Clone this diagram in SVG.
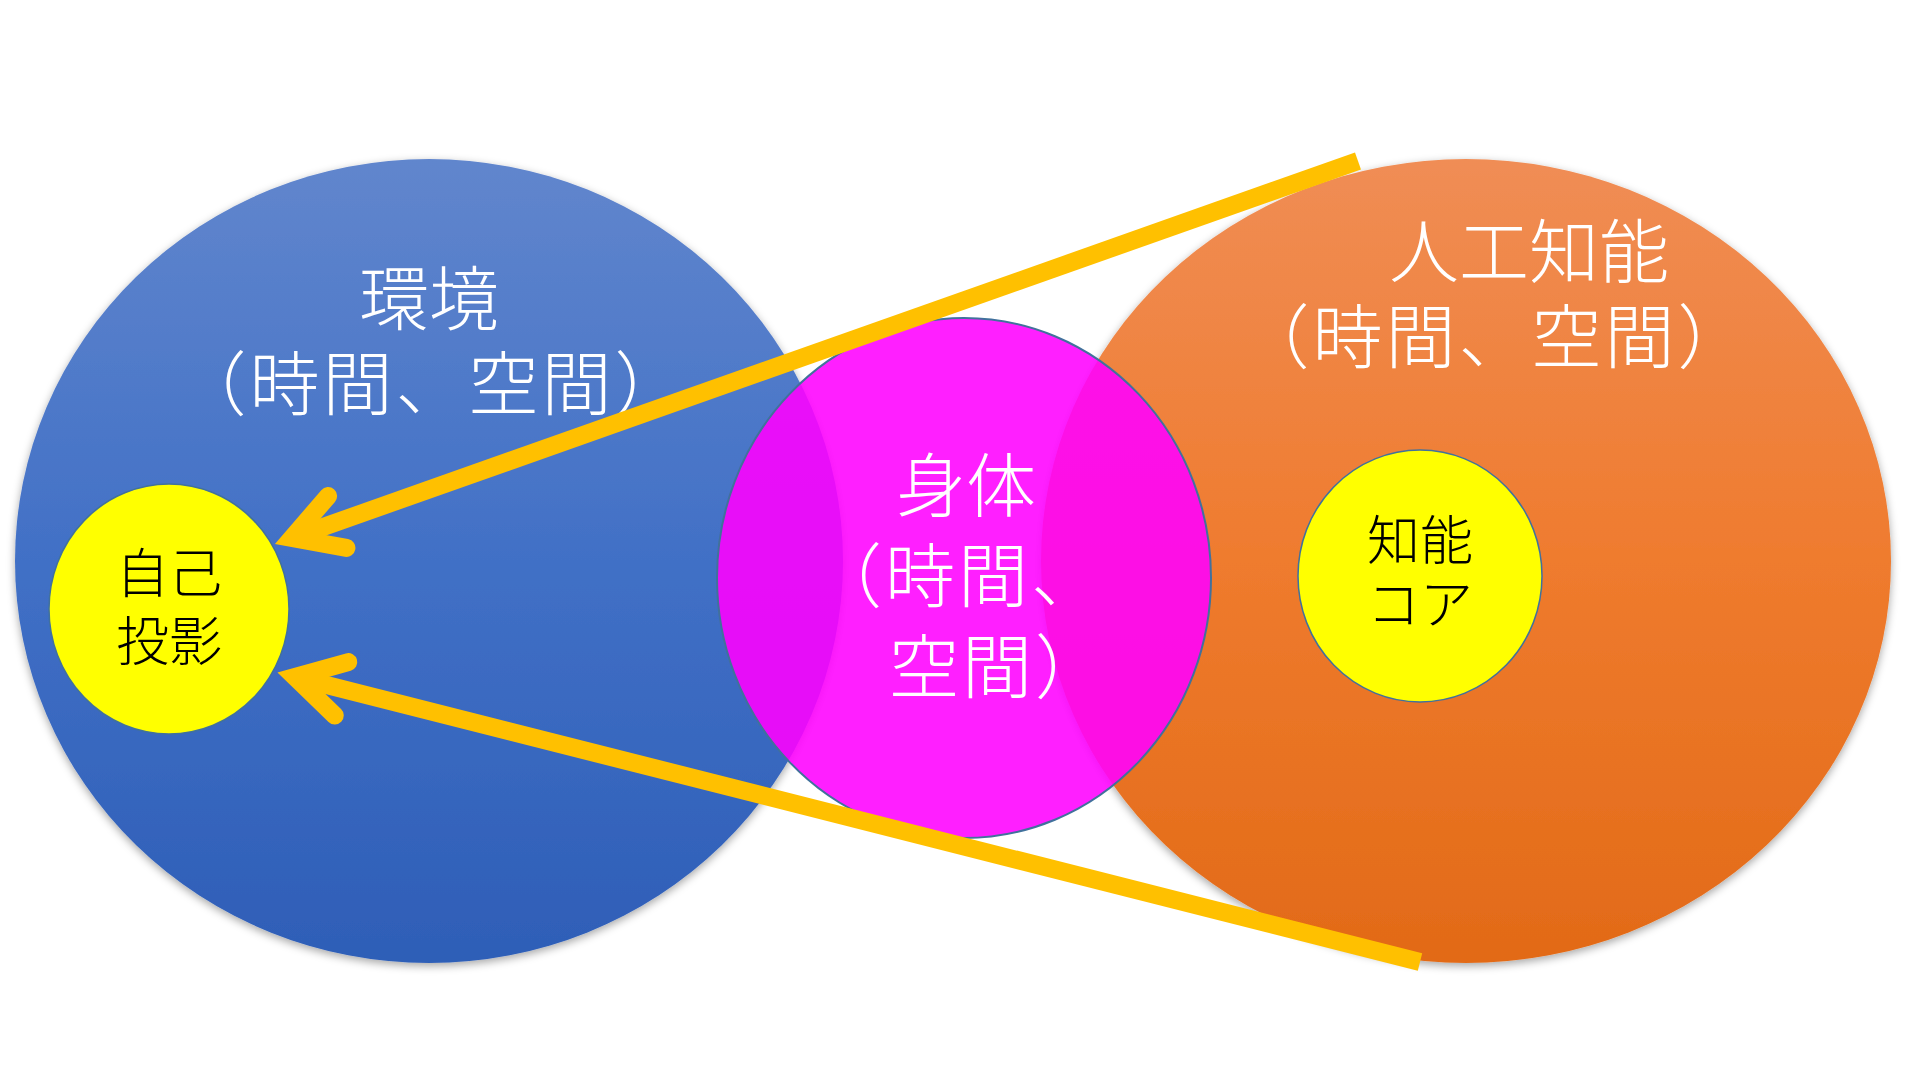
<svg xmlns="http://www.w3.org/2000/svg" width="1920" height="1080" viewBox="0 0 1920 1080">
  <style>
    .lbl { font-family: "Noto Sans CJK JP", "Noto Sans CJK SC", sans-serif; font-weight: 300; }
    .big { font-size: 70px; fill: #ffffff; }
    .wide { letter-spacing: 3px; }
    .small { font-size: 53px; fill: #000000; }
    .core { fill: #FFFF00; stroke: #41719C; stroke-width: 1.5; }
    .conn { fill: none; stroke: #FFC000; stroke-width: 18; stroke-linecap: butt; }
  </style>
  <defs>
    <linearGradient id="gBlue" x1="0" y1="0" x2="0" y2="1">
      <stop offset="0" stop-color="#6186CD"/>
      <stop offset="0.5" stop-color="#4170C6"/>
      <stop offset="1" stop-color="#2E5EB7"/>
    </linearGradient>
    <linearGradient id="gOrange" x1="0" y1="0" x2="0" y2="1">
      <stop offset="0" stop-color="#F08D55"/>
      <stop offset="0.5" stop-color="#EF7B2E"/>
      <stop offset="1" stop-color="#E26A17"/>
    </linearGradient>
    <filter id="shadow" x="-10%" y="-10%" width="120%" height="125%">
      <feDropShadow dx="0" dy="3" stdDeviation="4" flood-color="#000000" flood-opacity="0.35"/>
    </filter>
    <marker id="openArrow" markerUnits="userSpaceOnUse" orient="auto" viewBox="-20 -50 100 100" markerWidth="100" markerHeight="100" refX="0" refY="0" overflow="visible">
      <path d="M48,-27.5 L0,0 L48,27.5" fill="none" stroke="#FFC000" stroke-width="18" stroke-linecap="round" stroke-linejoin="miter"/>
    </marker>
  </defs>
  <rect x="0" y="0" width="1920" height="1080" fill="#ffffff"/>

  <g id="environment">
    <ellipse cx="429" cy="561" rx="414" ry="402" fill="url(#gBlue)" filter="url(#shadow)"/>
    <text class="lbl big" x="429" y="325" text-anchor="middle">環境</text>
    <text class="lbl big wide" x="432" y="410" text-anchor="middle">（時間、空間）</text>
  </g>

  <g id="ai">
    <ellipse cx="1466" cy="561" rx="425" ry="402" fill="url(#gOrange)" filter="url(#shadow)"/>
    <text class="lbl big" x="1529" y="278" text-anchor="middle">人工知能</text>
    <text class="lbl big wide" x="1495" y="363" text-anchor="middle">（時間、空間）</text>
  </g>

  <g id="self-projection">
    <ellipse class="core" cx="169" cy="609" rx="120" ry="125"/>
    <text class="lbl small" x="169" y="593" text-anchor="middle">自己</text>
    <text class="lbl small" x="169" y="661" text-anchor="middle">投影</text>
  </g>

  <g id="intelligence-core">
    <ellipse class="core" cx="1420" cy="576" rx="122" ry="126"/>
    <text class="lbl small" x="1420" y="560" text-anchor="middle">知能</text>
    <text class="lbl small" x="1420" y="624" text-anchor="middle">コア</text>
  </g>

  <g id="body">
    <ellipse cx="964" cy="578" rx="247" ry="260" fill="#FF00FF" fill-opacity="0.88" stroke="#41719C" stroke-width="2"/>
    <text class="lbl big" x="966" y="512" text-anchor="middle">身体</text>
    <text class="lbl big wide" x="812" y="602">（時間、</text>
    <text class="lbl big wide" x="889" y="693">空間）</text>
  </g>

  <g id="connectors">
    <path class="conn" d="M292,538 L1358,161" marker-start="url(#openArrow)"/>
    <path class="conn" d="M295,677 L1420,962" marker-start="url(#openArrow)"/>
  </g>
</svg>
